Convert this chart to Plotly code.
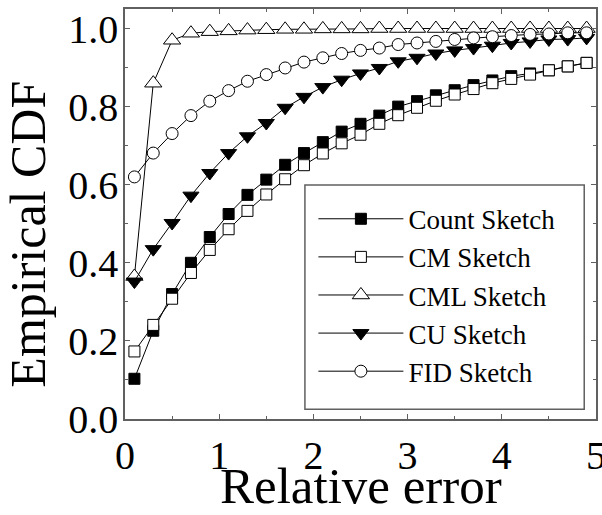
import plotly.graph_objects as go

x = [0.1, 0.3, 0.5, 0.7, 0.9, 1.1, 1.3, 1.5, 1.7, 1.9, 2.1, 2.3, 2.5, 2.7, 2.9,
     3.1, 3.3, 3.5, 3.7, 3.9, 4.1, 4.3, 4.5, 4.7, 4.9]

count_sketch = [0.103, 0.226, 0.320, 0.400, 0.466, 0.525, 0.574, 0.613, 0.651, 0.681,
                0.709, 0.736, 0.756, 0.777, 0.800, 0.814, 0.829, 0.842, 0.855, 0.867,
                0.878, 0.885, 0.893, 0.903, 0.912]
cm_sketch = [0.173, 0.241, 0.308, 0.374, 0.433, 0.486, 0.533, 0.575, 0.614, 0.650,
             0.680, 0.706, 0.728, 0.756, 0.778, 0.797, 0.815, 0.831, 0.845, 0.860,
             0.871, 0.882, 0.893, 0.903, 0.912]
cml_sketch = [0.365, 0.860, 0.970, 0.988, 0.992, 0.994, 0.996, 0.997, 0.998, 0.998,
              0.999, 0.999, 0.999, 1.000, 1.000, 1.000, 1.000, 1.000, 1.000, 1.000,
              1.000, 1.000, 1.000, 1.000, 1.000]
cu_sketch = [0.352, 0.435, 0.502, 0.572, 0.630, 0.681, 0.724, 0.758, 0.797, 0.825,
             0.850, 0.869, 0.885, 0.899, 0.916, 0.925, 0.936, 0.944, 0.950, 0.956,
             0.963, 0.967, 0.972, 0.973, 0.976]
fid_sketch = [0.620, 0.681, 0.731, 0.777, 0.814, 0.841, 0.865, 0.882, 0.899, 0.914,
              0.925, 0.936, 0.944, 0.950, 0.959, 0.963, 0.967, 0.972, 0.976, 0.979,
              0.982, 0.985, 0.986, 0.989, 0.989]

series = [
    ("Count Sketch", count_sketch, "square", "black", 11),
    ("CM Sketch", cm_sketch, "square", "white", 11),
    ("CML Sketch", cml_sketch, "triangle-up", "white", 15),
    ("CU Sketch", cu_sketch, "triangle-down", "black", 14),
    ("FID Sketch", fid_sketch, "circle", "white", 12),
]

FONT = "Liberation Serif"
AX = "#606060"
fig = go.Figure()
for i, (name, ys, sym, fill, sz) in enumerate(series):
    fig.add_trace(go.Scatter(
        x=x, y=ys, name=name, mode="lines+markers",
        line=dict(color="black", width=1),
        marker=dict(symbol=sym, size=sz, color=fill,
                    line=dict(color="black", width=1)),
    ))

axis_common = dict(
    showline=True, linecolor=AX, linewidth=1.5, mirror="ticks",
    ticks="inside", ticklen=5, tickcolor=AX, tickwidth=1,
    showgrid=False, zeroline=False, automargin=False,
    tickfont=dict(family=FONT, size=40, color="black"),
    ticklabeloverflow="allow",
)
fig.update_xaxes(
    range=[0, 5], dtick=1, tick0=0,
    minor=dict(dtick=0.5, ticks="inside", ticklen=3, tickcolor=AX),
    **axis_common,
)
fig.update_yaxes(
    range=[0, 1.05], dtick=0.2, tick0=0, tickformat=".1f",
    minor=dict(dtick=0.1, ticks="inside", ticklen=3, tickcolor=AX),
    ticklabelstandoff=-3,
    **axis_common,
)
# axis titles placed as in the original
fig.add_annotation(text="Relative error", xref="paper", yref="paper",
                   x=0.5, y=-0.163, xanchor="center", yanchor="middle",
                   showarrow=False,
                   font=dict(family=FONT, size=51, color="black"))
fig.add_annotation(text="Empirical CDF", xref="paper", yref="paper",
                   x=-0.206, y=0.452, xanchor="center", yanchor="middle",
                   textangle=-90, showarrow=False,
                   font=dict(family=FONT, size=50, color="black"))
# legend frame
fig.add_shape(type="rect", xref="paper", yref="paper",
              x0=0.382, x1=0.975, y0=0.024, y1=0.571,
              line=dict(color=AX, width=1.5), fillcolor="white", layer="above")
fig.update_layout(
    width=602, height=515,
    margin=dict(l=125, r=6, t=9, b=96, autoexpand=False),
    paper_bgcolor="white", plot_bgcolor="white",
    showlegend=True,
    legend=dict(
        x=0.400, y=0.547, xanchor="left", yanchor="top",
        borderwidth=0, bgcolor="rgba(0,0,0,0)",
        font=dict(family=FONT, size=27, color="black"),
        itemwidth=85, tracegroupgap=0,
    ),
)
fig.write_html("out.html")
